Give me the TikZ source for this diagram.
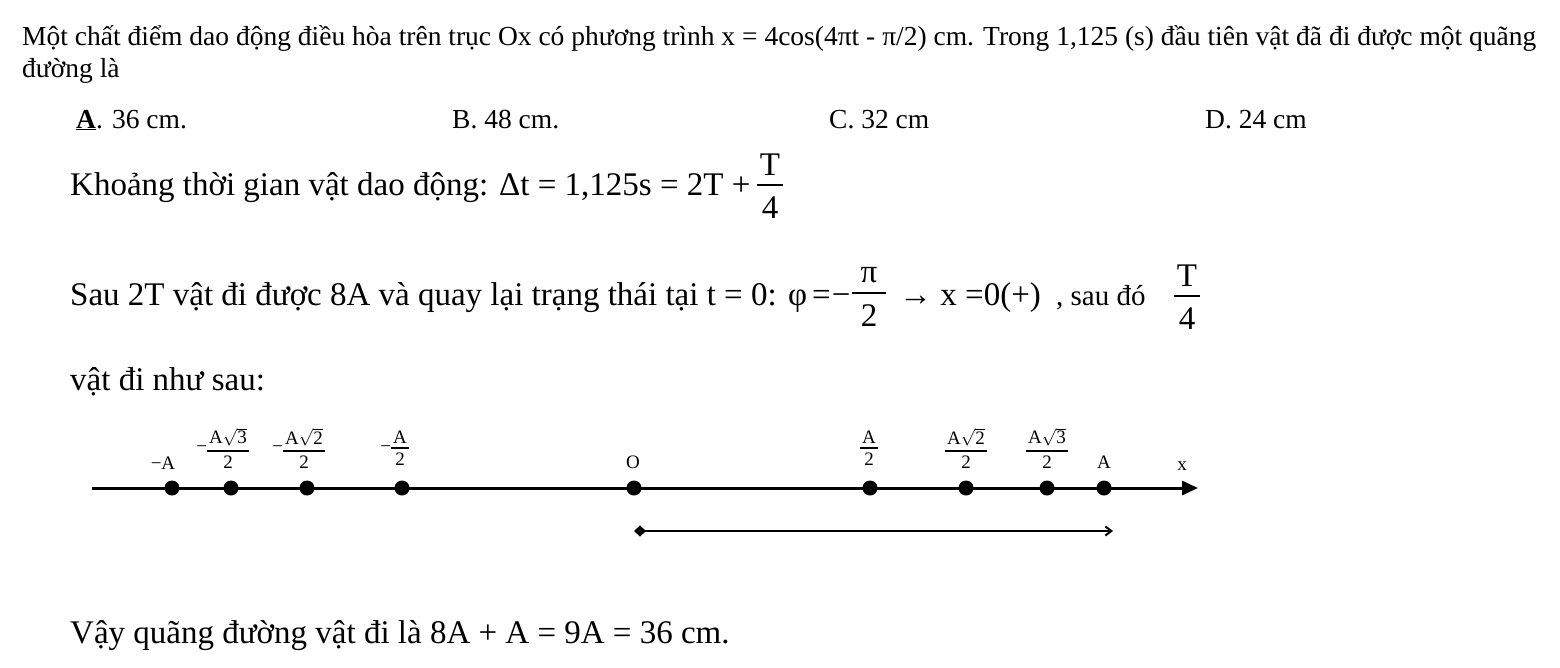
\documentclass[tikz,border=0pt]{standalone}
\usepackage{fontspec}
\setmainfont{Liberation Serif}
\usetikzlibrary{arrows.meta}
% fraction: #1 gap above rule, #2 gap below rule, #3 side padding, #4 numerator, #5 denominator
\newcommand{\vfrr}[5]{$\vcenter{\halign{\hfil\kern#3##\kern#3\hfil\cr #4\cr\noalign{\kern#1\hrule height 1.8pt\kern#2}#5\cr}}$}
\begin{document}
\begin{tikzpicture}[x=1pt,y=-1pt,
  q/.style={anchor=base west,inner sep=0pt,font=\fontsize{27.5}{32}\selectfont},
  s/.style={anchor=base west,inner sep=0pt,font=\fontsize{33}{38}\selectfont},
  sm/.style={anchor=base west,inner sep=0pt,font=\fontsize{29}{34}\selectfont},
  sf/.style={inner sep=0pt,font=\fontsize{33}{38}\selectfont},
  lab/.style={inner sep=0pt,font=\fontsize{19}{22}\selectfont},
  dot/.style={circle,fill=black,inner sep=0pt,minimum size=15pt}]
\useasboundingbox[fill=white] (0,0) rectangle (1560,667);
\node[q] (l1) at (22,45) {Một chất điểm dao động điều hòa trên trục Ox có phương trình x = 4cos(4πt - π/2) cm. Trong 1,125 (s) đầu tiên vật đã đi được một quãng};
\node[q] (l2) at (22,77) {đường là};
\node[q] (ca) at (76,128) {\textbf{\underline{A}}. 36 cm.};
\node[q] (cb) at (452,128) {B. 48 cm.};
\node[q] (cc) at (829,128) {C. 32 cm};
\node[q] (cd) at (1205,128) {D. 24 cm};
% line: time interval
\node[s] (kh) at (70,195) {Khoảng thời gian vật dao động: Δt = 1,125s = 2T +};
\node[sf] (khf) at (770,186) {\vfrr{9pt}{11pt}{3pt}{T}{4}};
% line: after 2T
\node[s] (sau) at (70,305) {Sau 2T vật đi được 8A và quay lại trạng thái tại t = 0:};
\node[s] (phi) at (788,305) {φ\kern5pt=\kern1pt−};
\node[sf] (pif) at (869,297) {\vfrr{9pt}{11pt}{9pt}{π}{2}};
\node[s] (xeq) at (899,305) {→ x =0(+)};
\node[sm] (saudo) at (1056,305) {, sau đó};
\node[sf] (sauf) at (1187,297) {\vfrr{9pt}{11pt}{3pt}{T}{4}};
\node[s] (vat) at (70,390) {vật đi như sau:};
\node[s] (vay) at (70,643) {Vậy quãng đường vật đi là 8A + A = 9A = 36 cm.};
% number line
\coordinate (ls) at (92,488);
\coordinate (le) at (1198,488);
\draw[line width=3pt,-{Triangle[length=16pt,width=14pt]}] (ls) -- (le);
\node[dot] (pa) at (172,488) {};
\node[dot] (pb) at (231,488) {};
\node[dot] (pc) at (307,488) {};
\node[dot] (pd) at (402,488) {};
\node[dot] (po) at (634,488) {};
\node[dot] (pe) at (870,488) {};
\node[dot] (pf) at (966,488) {};
\node[dot] (pg) at (1047,488) {};
\node[dot] (ph) at (1104,488) {};
\node[lab] (ta) at (163,463) {−A};
\node[lab] (tb) at (228,448) {\llap{−}\vfrr{4pt}{4pt}{2pt}{A$\sqrt{\mbox{3}}$}{2}};
\node[lab] (tc) at (304,448) {\llap{−}\vfrr{4pt}{4pt}{2pt}{A$\sqrt{\mbox{2}}$}{2}};
\node[lab] (td) at (400,448) {\llap{−}\vfrr{4pt}{4pt}{2pt}{A}{2}};
\node[lab] (to) at (633,462) {O};
\node[lab] (te) at (869,448) {\vfrr{4pt}{4pt}{2pt}{A}{2}};
\node[lab] (tf) at (966,448) {\vfrr{4pt}{4pt}{2pt}{A$\sqrt{\mbox{2}}$}{2}};
\node[lab] (tg) at (1047,448) {\vfrr{4pt}{4pt}{2pt}{A$\sqrt{\mbox{3}}$}{2}};
\node[lab] (th) at (1104,462) {A};
\node[lab] (tx) at (1182,466) {x};
% travelled path
\coordinate (ms) at (634,531);
\coordinate (me) at (1113,531);
\draw[line width=2pt,{Diamond[length=12pt,width=11pt]}-{Straight Barb[length=6pt,width=9pt]}] (ms) -- (me);
\end{tikzpicture}
\end{document}
